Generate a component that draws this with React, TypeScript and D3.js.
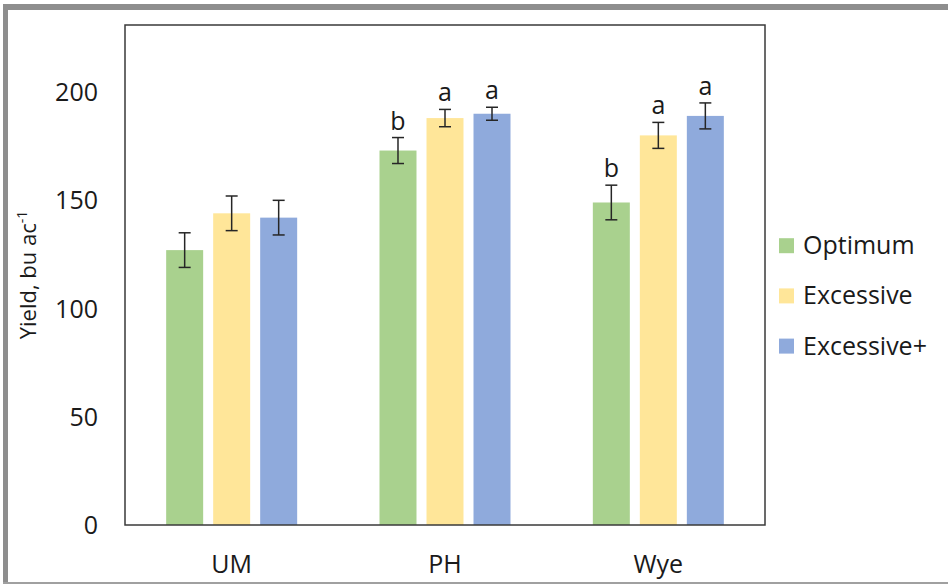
import React, { useMemo } from "react";
import * as d3 from "d3";

const sites = ["UM", "PH", "Wye"];
const seriesNames = ["Optimum", "Excessive", "Excessive+"];
const optimum = [127, 173, 149];
const excessive = [144, 188, 180];
const excessivePlus = [142, 190, 189];
const errOptimum = [8, 6, 8];
const errExcessive = [8, 4, 6];
const errExcessivePlus = [8, 3, 6];
const lettersOptimum = ["", "b", "b"];
const lettersExcessive = ["", "a", "a"];
const lettersExcessivePlus = ["", "a", "a"];
const yTicks = [0, 50, 100, 150, 200];
const colors = ["#a9d18e", "#ffe699", "#8faadc"];

const width = 948;
const height = 584;
const plot = { left: 125, right: 765, top: 25, bottom: 525 };
const yMax = 231;
const font = "'Open Sans', sans-serif";

export default function App() {
  const values = [optimum, excessive, excessivePlus];
  const errors = [errOptimum, errExcessive, errExcessivePlus];
  const letters = [lettersOptimum, lettersExcessive, lettersExcessivePlus];

  const xScale = useMemo(
    () => d3.scaleBand().domain(sites).range([plot.left, plot.right]).padding(0),
    []
  );
  const yScale = useMemo(
    () => d3.scaleLinear().domain([0, yMax]).range([plot.bottom, plot.top]),
    []
  );
  // bars inside each site group
  const inner = useMemo(
    () => d3.scaleBand().domain(seriesNames).range([-65.5, 65.5]).paddingInner(0.213).paddingOuter(0),
    []
  );

  const bars = [];
  sites.forEach((site, i) => {
    const cx = xScale(site) + xScale.bandwidth() / 2;
    seriesNames.forEach((s, j) => {
      const v = values[j][i];
      const e = errors[j][i];
      const x = cx + inner(s);
      const bw = inner.bandwidth();
      const mid = x + bw / 2;
      const yTop = yScale(v + e);
      bars.push(
        <g key={site + s}>
          <rect x={x} y={yScale(v)} width={bw} height={yScale(0) - yScale(v)} fill={colors[j]} />
          <line x1={mid} x2={mid} y1={yScale(v + e)} y2={yScale(v - e)} stroke="#262626" strokeWidth={1.5} />
          <line x1={mid - 6} x2={mid + 6} y1={yTop} y2={yTop} stroke="#262626" strokeWidth={1.5} />
          <line x1={mid - 6} x2={mid + 6} y1={yScale(v - e)} y2={yScale(v - e)} stroke="#262626" strokeWidth={1.5} />
          {letters[j][i] && (
            <text x={mid} y={yTop - 8} textAnchor="middle" fontSize={25} fill="#1a1a1a" fontFamily={font}>
              {letters[j][i]}
            </text>
          )}
        </g>
      );
    });
  });

  return (
    <svg
      width={width}
      height={height}
      style={{ position: "absolute", left: 0, top: 0, background: "#fff" }}
    >
      {/* outer gray frame */}
      <rect x={3} y={4} width={width - 3} height={6} fill="#8e8e8e" />
      <rect x={3} y={4} width={5} height={height - 4} fill="#8e8e8e" />
      <rect x={3} y={582} width={width - 3} height={2} fill="#a0a0a0" />

      {bars}

      <rect
        x={plot.left}
        y={plot.top}
        width={plot.right - plot.left}
        height={plot.bottom - plot.top}
        fill="none"
        stroke="#3a3a3a"
        strokeWidth={1.5}
      />

      {yTicks.map((t) => (
        <text key={t} x={98} y={yScale(t) + 9} textAnchor="end" fontSize={25} fill="#1a1a1a" fontFamily={font}>
          {t}
        </text>
      ))}

      {sites.map((s) => (
        <text
          key={s}
          x={xScale(s) + xScale.bandwidth() / 2}
          y={573}
          textAnchor="middle"
          fontSize={25}
          fill="#1a1a1a"
          fontFamily={font}
        >
          {s}
        </text>
      ))}

      <text
        transform="translate(36,275) rotate(-90)"
        textAnchor="middle"
        fontSize={22}
        fill="#1a1a1a"
        fontFamily={font}
      >
        Yield, bu ac
        <tspan fontSize={14} dy={-9}>-1</tspan>
      </text>

      {seriesNames.map((s, j) => {
        const cy = 245.7 + j * 50.2;
        return (
          <g key={s}>
            <rect x={779} y={cy - 7.5} width={15} height={15} fill={colors[j]} />
            <text x={803} y={cy + 8.5} fontSize={25} fill="#1a1a1a" fontFamily={font}>
              {s}
            </text>
          </g>
        );
      })}
    </svg>
  );
}
